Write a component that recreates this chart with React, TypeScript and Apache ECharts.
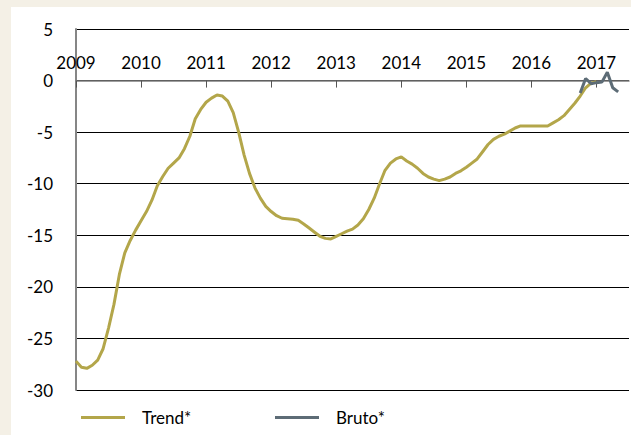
import React, { useEffect, useRef } from "react";
import * as echarts from "echarts";

const years = [2009, 2010, 2011, 2012, 2013, 2014, 2015, 2016, 2017];
const monthNums = ["01", "02", "03", "04", "05", "06", "07", "08", "09", "10", "11", "12"];
const lastMonth = "2017-07";

const trendValues = [
  -27.2, -27.8, -27.9, -27.6, -27.1, -26.0, -24.0, -21.7, -18.8, -16.7, -15.5, -14.5,
  -13.6, -12.7, -11.6, -10.2, -9.3, -8.5, -8.0, -7.5, -6.6, -5.4, -3.7, -2.8,
  -2.1, -1.7, -1.4, -1.5, -2.0, -3.1, -5.0, -7.2, -9.0, -10.4, -11.4, -12.2,
  -12.7, -13.1, -13.35, -13.4, -13.45, -13.55, -13.9, -14.3, -14.7, -15.1, -15.3, -15.35,
  -15.1, -14.85, -14.6, -14.4, -14.0, -13.4, -12.5, -11.4, -10.0, -8.7, -8.0, -7.6,
  -7.4, -7.8, -8.1, -8.5, -9.0, -9.35, -9.55, -9.7, -9.55, -9.35, -9.0, -8.75,
  -8.4, -8.0, -7.6, -6.9, -6.2, -5.7, -5.4, -5.2, -4.9, -4.6, -4.4, -4.4,
  -4.4, -4.4, -4.4, -4.4, -4.1, -3.8, -3.4, -2.8, -2.2, -1.5, -0.7, -0.25,
  -0.1,
];

const brutoMonths = ["2016-10", "2016-11", "2016-12", "2017-01", "2017-02", "2017-03", "2017-04", "2017-05"];
const brutoValues = [-1.2, 0.2, -0.3, -0.2, -0.15, 0.8, -0.7, -1.1];

const yTicks = { min: -30, max: 5, interval: 5 };

const categories: string[] = [];
for (const y of years) {
  for (const m of monthNums) {
    const c = `${y}-${m}`;
    if (c > lastMonth) break;
    categories.push(c);
  }
}

const TREND_COLOR = "#B3A64A";
const BRUTO_COLOR = "#5D6C76";
const FONT = "Lato";
const FONT_SIZE = 17;

const GRID_TOP = 29;
const GRID_BOTTOM = 45;
const CHART_H = 435;

export default function App() {
  const ref = useRef<HTMLDivElement>(null);
  useEffect(() => {
    if (!ref.current) return;
    const chart = echarts.init(ref.current, undefined, { renderer: "svg" });
    const plotH = CHART_H - GRID_TOP - GRID_BOTTOM;
    const zeroOffset = -(plotH * (yTicks.max - 0)) / (yTicks.max - yTicks.min);
    const legendBase = {
      orient: "horizontal" as const,
      top: 404,
      icon: "rect",
      itemWidth: 44,
      itemHeight: 3,
      textStyle: { fontFamily: FONT, fontSize: FONT_SIZE, color: "#000", padding: [0, 0, 0, 12] },
      selectedMode: false,
    };
    chart.setOption({
      animation: false,
      backgroundColor: "transparent",
      grid: { left: 76, top: GRID_TOP, right: 2, bottom: GRID_BOTTOM, containLabel: false },
      legend: [
        { ...legendBase, left: 76, data: ["Trend*"] },
        { ...legendBase, left: 270, data: ["Bruto*"] },
      ],
      xAxis: {
        type: "category",
        position: "top",
        offset: zeroOffset,
        data: categories,
        boundaryGap: false,
        axisLine: { onZero: false, lineStyle: { color: "#808080", width: 1.5 } },
        axisTick: {
          show: true,
          interval: 11,
          length: 7,
          inside: true,
          lineStyle: { color: "#555555", width: 1 },
        },
        axisLabel: {
          interval: 11,
          margin: 10,
          fontFamily: FONT,
          fontSize: FONT_SIZE,
          color: "#000",
          formatter: (v: string) => v.slice(0, 4),
        },
        splitLine: { show: false },
      },
      yAxis: {
        type: "value",
        min: yTicks.min,
        max: yTicks.max,
        interval: yTicks.interval,
        axisLine: { show: true, onZero: false, lineStyle: { color: "#868686", width: 2 } },
        axisTick: { show: false },
        axisLabel: { fontFamily: FONT, fontSize: FONT_SIZE, color: "#000", margin: 23 },
        splitLine: { show: true, lineStyle: { color: "#000", width: 1 } },
      },
      series: [
        {
          name: "Trend*",
          type: "line",
          data: trendValues,
          symbol: "none",
          lineStyle: { color: TREND_COLOR, width: 3 },
          itemStyle: { color: TREND_COLOR },
          z: 3,
        },
        {
          name: "Bruto*",
          type: "line",
          data: brutoMonths.map((m, i) => [m, brutoValues[i]]),
          symbol: "none",
          lineStyle: { color: BRUTO_COLOR, width: 3 },
          itemStyle: { color: BRUTO_COLOR },
          z: 4,
        },
      ],
    });
    return () => chart.dispose();
  }, []);
  return (
    <div
      style={{
        position: "fixed",
        left: 0,
        top: 0,
        width: 631,
        height: 435,
        background: "#F4F0E6",
        overflow: "hidden",
      }}
    >
      <div style={{ position: "absolute", left: 11, top: 7, right: 0, bottom: 0, background: "#fff" }} />
      <div ref={ref} style={{ position: "absolute", left: 0, top: 0, width: 631, height: CHART_H }} />
    </div>
  );
}
